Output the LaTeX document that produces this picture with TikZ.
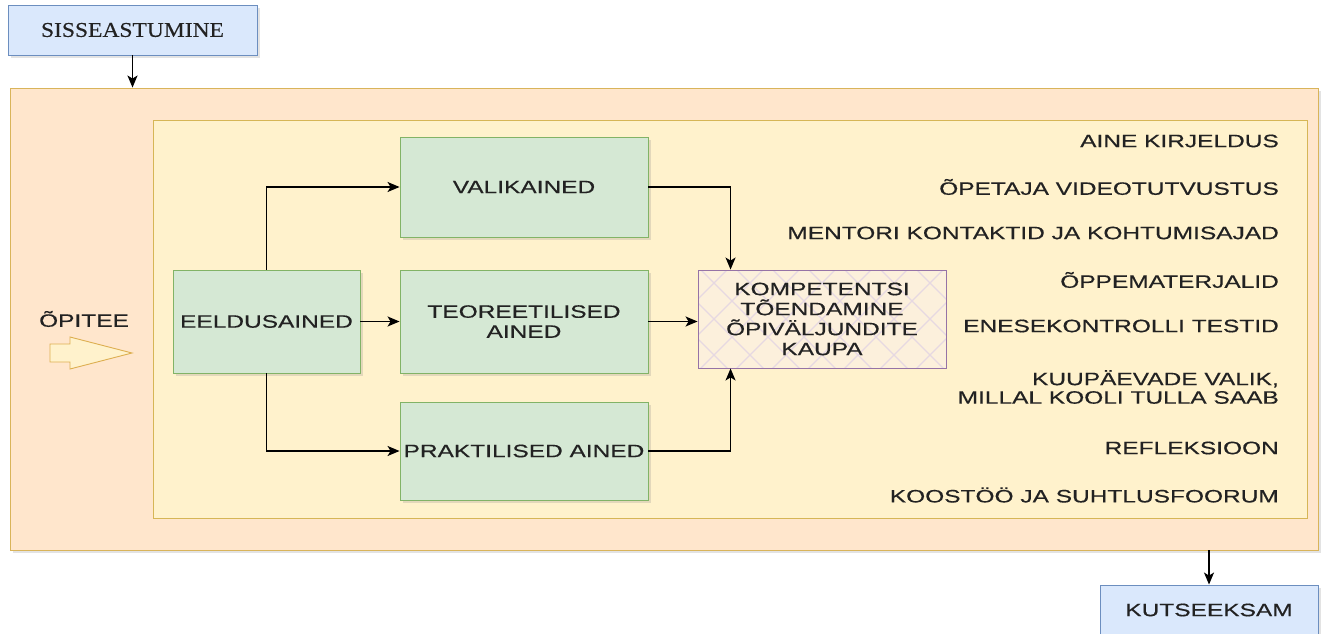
\documentclass[tikz,border=0pt]{standalone}
\usepackage{fontspec}
\setmainfont{Liberation Sans}[FakeStretch=1.36,FakeBold=0.4]
\newfontfamily\sisfont{Liberation Serif}[FakeStretch=1.12,FakeBold=0.3]
\usetikzlibrary{arrows.meta,shadows,calc}
\definecolor{peach}{HTML}{FFE6CC}
\definecolor{peachline}{HTML}{D9B45A}
\definecolor{cream}{HTML}{FFF2CC}
\definecolor{creamline}{HTML}{D6B656}
\definecolor{mint}{HTML}{D5E8D4}
\definecolor{mintline}{HTML}{82B366}
\definecolor{sky}{HTML}{DAE8FC}
\definecolor{skyline}{HTML}{6C8EBF}
\definecolor{lilac}{HTML}{9673A6}
\definecolor{hatchc}{HTML}{E6D8E2}
\definecolor{komfill}{HTML}{FCF0DC}
\definecolor{txt}{HTML}{222222}
\tikzset{
  shade3/.style={drop shadow={opacity=0.22,shadow xshift=3pt,shadow yshift=-3pt}},
  boxbase/.style={rectangle,inner sep=0pt,align=center,text=txt,
    font=\fontsize{18}{20}\selectfont,line width=0.9pt},
  greenbox/.style={boxbase,fill=mint,draw=mintline,shade3},
  bluebox/.style={boxbase,fill=sky,draw=skyline,shade3},
  listtxt/.style={anchor=east,inner sep=0pt,align=right,text=txt,
    font=\fontsize{18}{18.5}\selectfont},
  arr/.style={-{Stealth[length=12pt,width=10pt,inset=3pt]},line width=1.5pt,black},
  hatchline/.style={draw=hatchc,line width=1.1pt}
}
\begin{document}
\begin{tikzpicture}[x=1pt,y=-1pt]
\useasboundingbox (0,0) rectangle (1330,634);
\fill[white] (0,0) rectangle (1330,634);

% containers
\node[boxbase,fill=peach,draw=peachline,shade3,minimum width=1308pt,minimum height=462pt] (outer) at (664,319) {};
\node[boxbase,fill=cream,draw=creamline,minimum width=1154pt,minimum height=398pt] (inner) at (730,319) {};

% top / bottom boxes
\node[bluebox,minimum width=249pt,minimum height=50pt,font=\sisfont\fontsize{21}{22}\selectfont] (sis) at (132.5,30) {SISSEASTUMINE};
\node[bluebox,minimum width=218pt,minimum height=50pt] (kut) at (1209,610) {KUTSEEKSAM};

% green boxes
\node[greenbox,minimum width=187pt,minimum height=103pt] (eeld) at (266.5,321.5) {EELDUSAINED};
\node[greenbox,minimum width=248pt,minimum height=100pt] (valik) at (524,187) {VALIKAINED};
\node[greenbox,minimum width=248pt,minimum height=103pt] (teor) at (524,321.5) {TEOREETILISED\\AINED};
\node[greenbox,minimum width=248pt,minimum height=98pt] (prakt) at (524,451) {PRAKTILISED AINED};

% competence box with cross hatch
\node[boxbase,fill=komfill,draw=lilac,minimum width=248pt,minimum height=98pt,
  path picture={
    \foreach \i in {-324,-288,...,324}{
      \draw[hatchline] ([xshift=\i pt]path picture bounding box.center) ++(-160,-160) -- ++(320,320);
      \draw[hatchline] ([xshift=\i pt]path picture bounding box.center) ++(-160,160) -- ++(320,-320);
    }
  }] (komp) at (822,319) {KOMPETENTSI\\TÕENDAMINE\\ÕPIVÄLJUNDITE\\KAUPA};

% ÕPITEE label and block arrow
\node[inner sep=0pt,text=txt,font=\fontsize{18}{20}\selectfont] (opitee) at (84,319) {ÕPITEE};
\draw[fill=cream,draw=peachline!90!orange,line width=0.9pt]
  (50,344) -- (70,344) -- (70,337) -- (132,353) -- (70,369) -- (70,362) -- (50,362) -- cycle;

% right-hand list
\node[listtxt] (l1) at (1279,141) {AINE KIRJELDUS};
\node[listtxt] (l2) at (1279,187) {ÕPETAJA VIDEOTUTVUSTUS};
\node[listtxt] (l3) at (1279,233) {MENTORI KONTAKTID JA KOHTUMISAJAD};
\node[listtxt] (l4) at (1279,280) {ÕPPEMATERJALID};
\node[listtxt] (l5) at (1279,326) {ENESEKONTROLLI TESTID};
\node[listtxt] (l6) at (1279,387) {KUUPÄEVADE VALIK,\\MILLAL KOOLI TULLA SAAB};
\node[listtxt] (l7) at (1279,448) {REFLEKSIOON};
\node[listtxt] (l8) at (1279,495) {KOOSTÖÖ JA SUHTLUSFOORUM};

% connectors
\draw[arr] (sis.south) -- (sis.south |- outer.north);
\draw[arr] (kut.north |- outer.south) -- (kut.north);
\draw[arr] (eeld.north) |- (valik.west);
\draw[arr] (eeld.east) -- (teor.west);
\draw[arr] (eeld.south) |- (prakt.west);
\coordinate (ktop) at ([xshift=33pt]komp.north west);
\coordinate (kbot) at ([xshift=33pt]komp.south west);
\draw[arr] (valik.east) -| (ktop);
\draw[arr] (teor.east) -- (komp.west |- teor.east);
\draw[arr] (prakt.east) -| (kbot);
\end{tikzpicture}
\end{document}
